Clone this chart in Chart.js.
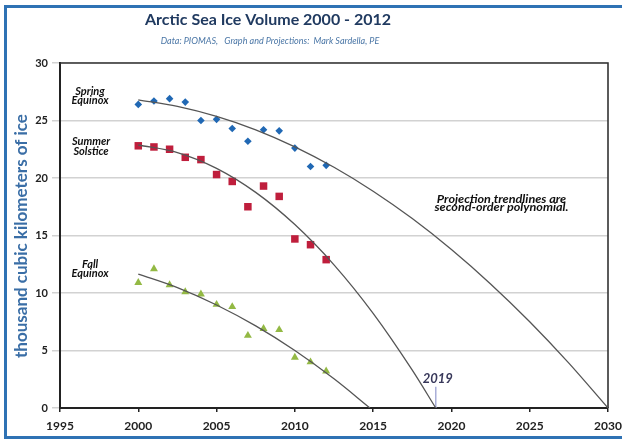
<!DOCTYPE html>
<html>
<head>
<meta charset="utf-8">
<script src="https://cdn.jsdelivr.net/npm/chart.js@4.4.1/dist/chart.umd.min.js"></script>
<style>
  html, body { margin: 0; padding: 0; background: #fff; overflow: hidden; }
  #wrap { position: relative; width: 622px; height: 439px; overflow: hidden; }
  #frame { position: absolute; left: 4px; top: 5px; width: 640px; height: 428px; border: 3px solid #2f72b4; }
  canvas { position: absolute; left: 0; top: 0; }
</style>
</head>
<body>
<div id="wrap">
  <div id="frame"></div>
  <canvas id="c" width="622" height="439"></canvas>
</div>
<script>
// ---- Data ----
const years = [2000, 2001, 2002, 2003, 2004, 2005, 2006, 2007, 2008, 2009, 2010, 2011, 2012];
const springEquinox  = [26.4, 26.7, 26.9, 26.6, 25.0, 25.1, 24.3, 23.2, 24.2, 24.1, 22.6, 21.0, 21.1];
const summerSolstice = [22.8, 22.7, 22.5, 21.8, 21.6, 20.3, 19.7, 17.5, 19.3, 18.4, 14.7, 14.2, 12.9];
const fallEquinox    = [10.9, 12.1, 10.7, 10.1, 9.9, 9.0, 8.8, 6.3, 6.9, 6.8, 4.4, 4.0, 3.2];

// Trendline values
const springTrendYears = [2000, 2002.5, 2005, 2007.5, 2010, 2012.5, 2015, 2017.5, 2020, 2022.5, 2025, 2027.5, 2030];
const springTrend      = [26.8, 26.23, 25.36, 24.19, 22.71, 20.93, 18.85, 16.47, 13.78, 10.79, 7.5, 3.9, 0];
const summerTrendYears = [2000, 2002.5, 2005, 2007.5, 2010, 2012.5, 2015, 2017.5, 2019];
const summerTrend      = [22.87, 22.21, 20.84, 18.75, 15.95, 12.45, 8.23, 3.29, 0];
const fallTrendYears   = [2000, 2002.5, 2005, 2007.5, 2010, 2012.5, 2014.8];
const fallTrend        = [11.65, 10.47, 8.96, 7.14, 5.0, 2.54, 0];

const xTicks = [1995, 2000, 2005, 2010, 2015, 2020, 2025, 2030];
const yTicks = [0, 5, 10, 15, 20, 25, 30];

const titleText = 'Arctic Sea Ice Volume 2000 - 2012';
const subtitleText = 'Data: PIOMAS,   Graph and Projections:  Mark Sardella, PE';
const yAxisTitle = 'thousand cubic kilometers of ice';
const seriesLabels = [['Spring', 'Equinox'], ['Summer', 'Solstice'], ['Fall', 'Equinox']];
const noteLines = ['Projection trendlines are', 'second-order polynomial.'];
const projectionYear = 2019;

const pts = (xs, ys) => xs.map((x, i) => ({ x: x, y: ys[i] }));

function txt(ctx, s, x, y, font, color, sx) {
  ctx.save();
  ctx.font = font;
  ctx.fillStyle = color;
  ctx.textAlign = 'center';
  ctx.textBaseline = 'middle';
  ctx.translate(x, y);
  ctx.scale(sx || 1, 1);
  ctx.fillText(s, 0, 0);
  ctx.restore();
}

const decor = {
  id: 'decor',
  beforeDatasetsDraw(chart) {
    const ctx = chart.ctx, a = chart.chartArea;
    ctx.save();
    ctx.strokeStyle = '#333';
    ctx.lineWidth = 1.6;
    ctx.beginPath();
    ctx.moveTo(a.left, a.top);
    ctx.lineTo(a.right, a.top);
    ctx.lineTo(a.right, a.bottom);
    ctx.stroke();
    ctx.restore();
    const xs = chart.scales.x, ys = chart.scales.y;
    const px = xs.getPixelForValue(projectionYear);
    ctx.save();
    ctx.strokeStyle = '#a9aed8';
    ctx.lineWidth = 1.5;
    ctx.beginPath();
    ctx.moveTo(px, ys.getPixelForValue(1.85));
    ctx.lineTo(px, ys.getPixelForValue(0));
    ctx.stroke();
    ctx.restore();
  },
  afterDraw(chart) {
    const ctx = chart.ctx;
    const xs = chart.scales.x, ys = chart.scales.y;
    txt(ctx, titleText, 268, 20, 'bold 16px Lato', '#203a60');
    txt(ctx, subtitleText, 270, 41, 'italic 9.5px Lato', '#4a76a6', 0.95);
    ctx.save();
    ctx.translate(22, 236);
    ctx.rotate(-Math.PI / 2);
    txt(ctx, yAxisTitle, 0, 0, 'bold 17px Lato', '#3a6ea6');
    ctx.restore();
    const lf = 'italic bold 11px Lato', lc = '#111';
    const lx = xs.getPixelForValue(1996.92);
    txt(ctx, seriesLabels[0][0], lx, ys.getPixelForValue(27.52), lf, lc);
    txt(ctx, seriesLabels[0][1], lx, ys.getPixelForValue(26.7), lf, lc);
    txt(ctx, seriesLabels[1][0], lx + 1, ys.getPixelForValue(23.2), lf, lc);
    txt(ctx, seriesLabels[1][1], lx + 1, ys.getPixelForValue(22.35), lf, lc);
    txt(ctx, seriesLabels[2][0], lx, ys.getPixelForValue(12.45), lf, lc);
    txt(ctx, seriesLabels[2][1], lx, ys.getPixelForValue(11.7), lf, lc);
    const nx = xs.getPixelForValue(2023.2);
    txt(ctx, noteLines[0], nx, ys.getPixelForValue(18.15), 'italic bold 10.5px Lato', lc, 1.2);
    txt(ctx, noteLines[1], nx, ys.getPixelForValue(17.4), 'italic bold 10.5px Lato', lc, 1.2);
    txt(ctx, String(projectionYear), xs.getPixelForValue(projectionYear) + 2, ys.getPixelForValue(2.55), 'italic bold 13px Lato', '#38385a');
  }
};

new Chart(document.getElementById('c'), {
  data: {
    datasets: [
      { type: 'line', data: pts(springTrendYears, springTrend), borderColor: '#555', borderWidth: 1.3, pointRadius: 0, cubicInterpolationMode: 'monotone', fill: false, order: 0 },
      { type: 'line', data: pts(summerTrendYears, summerTrend), borderColor: '#555', borderWidth: 1.3, pointRadius: 0, cubicInterpolationMode: 'monotone', fill: false, order: 0 },
      { type: 'line', data: pts(fallTrendYears, fallTrend), borderColor: '#555', borderWidth: 1.3, pointRadius: 0, cubicInterpolationMode: 'monotone', fill: false, order: 0 },
      { type: 'scatter', label: 'Spring Equinox', data: pts(years, springEquinox), pointStyle: 'rectRot', pointRadius: 3.8, backgroundColor: '#2068b4', borderColor: '#2068b4', borderWidth: 0, order: 1 },
      { type: 'scatter', label: 'Summer Solstice', data: pts(years, summerSolstice), pointStyle: 'rect', pointRadius: 5.3, backgroundColor: '#bf1e3c', borderColor: '#bf1e3c', borderWidth: 0, order: 1 },
      { type: 'scatter', label: 'Fall Equinox', data: pts(years, fallEquinox), pointStyle: 'triangle', pointRadius: 4.6, backgroundColor: '#93b944', borderColor: '#93b944', borderWidth: 0, order: 1 }
    ]
  },
  options: {
    responsive: false,
    animation: false,
    devicePixelRatio: 1,
    layout: { padding: { left: 0, top: 63, right: 2, bottom: 0 } },
    plugins: { legend: { display: false }, tooltip: { enabled: false }, title: { display: false } },
    scales: {
      x: {
        type: 'linear', min: 1995, max: 2030,
        afterFit(s) { s.height = 31; s.paddingRight = 14; },
        afterBuildTicks(s) { s.ticks = xTicks.map(v => ({ value: v })); },
        grid: { drawOnChartArea: false, drawTicks: true, tickLength: 4, color: '#222', lineWidth: 1.5 },
        border: { display: true, color: '#222', width: 2 },
        ticks: { padding: 7, color: '#222', font: { family: 'Lato', weight: 'bold', size: 12 }, maxRotation: 0, autoSkip: false, callback: v => String(v) }
      },
      y: {
        type: 'linear', min: 0, max: 30,
        afterFit(s) { s.width = 60; },
        afterBuildTicks(s) { s.ticks = yTicks.map(v => ({ value: v })); },
        grid: { color: '#d2d2d2', lineWidth: 1.5, tickLength: 8 },
        border: { display: true, color: '#222', width: 2 },
        ticks: { padding: 4, color: '#222', font: { family: 'Lato', weight: 'bold', size: 11 }, autoSkip: false, callback: v => String(v) }
      }
    }
  },
  plugins: [decor]
});
</script>
</body>
</html>
